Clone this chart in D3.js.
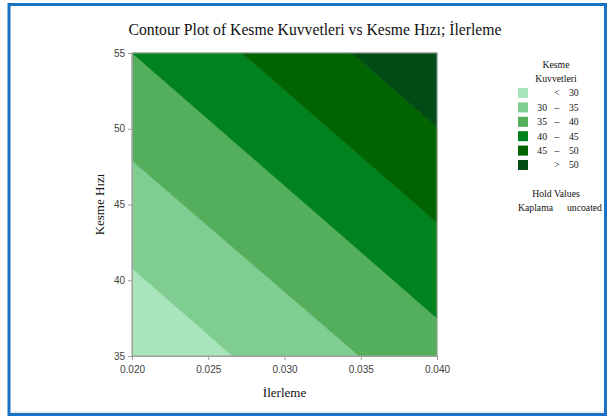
<!DOCTYPE html>
<html><head><meta charset="utf-8">
<script src="https://cdn.jsdelivr.net/npm/d3@7"></script>
<style>html,body{margin:0;padding:0;background:#fff;}svg{display:block;}</style>
</head><body>
<svg id="c" width="613" height="417"></svg>
<script>
// ---- data ----
const levels = [30, 35, 40, 45, 50];
// contour boundary endpoints (İlerleme, Kesme Hızı)
const lineX1 = [0.020, 0.020, 0.020, 0.0272, 0.0344];
const lineY1 = [40.8, 47.9, 55.0, 55.0, 55.0];
const lineX2 = [0.0266, 0.0349, 0.040, 0.040, 0.040];
const lineY2 = [35.0, 35.0, 37.5, 43.8, 50.1];
const bandLabels = [["", "<", "30"], ["30", "–", "35"], ["35", "–", "40"], ["40", "–", "45"], ["45", "–", "50"], ["", ">", "50"]];
const bandColors = ["#a8e5bd", "#80cd91", "#53af5b", "#00821f", "#006400", "#004c14"];
const xTicks = [0.020, 0.025, 0.030, 0.035, 0.040];
const yTicks = [35, 40, 45, 50, 55];
const xDomain = [0.020, 0.040];
const yDomain = [35, 55];

const svg = d3.select("#c");
// outer frame
svg.append("rect").attr("x", 9).attr("y", 4.5).attr("width", 596.5).attr("height", 410)
  .attr("fill", "none").attr("stroke", "#1a72c6").attr("stroke-width", 3);
svg.append("line").attr("x1", 10.5).attr("x2", 604).attr("y1", 412).attr("y2", 412)
  .attr("stroke", "#d8d8d8").attr("stroke-width", 1);

const L = 132, R = 437, T = 53, B = 356;
const x = d3.scaleLinear().domain(xDomain).range([L, R]);
const y = d3.scaleLinear().domain(yDomain).range([B, T]);

// half-plane clipping in pixel space
function lineFn(i) {
  const p1 = [x(lineX1[i]), y(lineY1[i])], p2 = [x(lineX2[i]), y(lineY2[i])];
  const f = p => (p2[0] - p1[0]) * (p[1] - p1[1]) - (p2[1] - p1[1]) * (p[0] - p1[0]);
  const s = Math.sign(f([x(xDomain[1]), y(yDomain[1])])) || 1; // top-right is "higher"
  return p => s * f(p);
}
function clip(poly, g) { // keep g(p) >= 0
  const out = [];
  for (let k = 0; k < poly.length; k++) {
    const a = poly[k], b = poly[(k + 1) % poly.length];
    const ga = g(a), gb = g(b);
    if (ga >= 0) out.push(a);
    if ((ga >= 0) !== (gb >= 0)) {
      const t = ga / (ga - gb);
      out.push([a[0] + t * (b[0] - a[0]), a[1] + t * (b[1] - a[1])]);
    }
  }
  return out;
}
const fns = levels.map((_, i) => lineFn(i));
const rectPoly = [[x(xDomain[0]), y(yDomain[0])], [x(xDomain[1]), y(yDomain[0])], [x(xDomain[1]), y(yDomain[1])], [x(xDomain[0]), y(yDomain[1])]];
const bands = bandColors.map((c, k) => {
  let poly = rectPoly.slice();
  if (k > 0) poly = clip(poly, fns[k - 1]);
  if (k < levels.length) { const f = fns[k]; poly = clip(poly, p => -f(p)); }
  return { poly, c };
});
svg.append("g").selectAll("path").data(bands).join("path")
  .attr("d", d => d.poly.length ? "M" + d.poly.map(p => p.join(",")).join("L") + "Z" : "")
  .attr("fill", d => d.c).attr("stroke", d => d.c).attr("stroke-width", 0.6);

// plot frame
svg.append("rect").attr("x", L).attr("y", T).attr("width", R - L).attr("height", B - T)
  .attr("fill", "none").attr("stroke", "#a0a0a0").attr("stroke-width", 1);

const axFont = "'Liberation Sans', Arial, sans-serif";
const xa = svg.append("g").attr("transform", `translate(0,${B})`)
  .call(d3.axisBottom(x).tickValues(xTicks).tickFormat(d3.format(".3f")).tickSize(4).tickSizeOuter(0));
const ya = svg.append("g").attr("transform", `translate(${L},0)`)
  .call(d3.axisLeft(y).tickValues(yTicks).tickFormat(d3.format("d")).tickSize(4).tickSizeOuter(0));
[xa, ya].forEach(a => {
  a.select(".domain").attr("stroke", "#a0a0a0");
  a.selectAll(".tick line").attr("stroke", "#a0a0a0");
  a.selectAll(".tick text").attr("fill", "#404040").style("font-family", axFont).style("font-size", "10px");
});
xa.selectAll(".tick text").attr("dy", "0.95em");

const serif = "'Liberation Serif', 'Times New Roman', serif";
svg.append("text").attr("x", 315).attr("y", 35).attr("text-anchor", "middle")
  .style("font-family", serif).style("font-size", "15.7px").attr("fill", "#111")
  .text("Contour Plot of Kesme Kuvvetleri vs Kesme Hızı; İlerleme");
svg.append("text").attr("x", (L + R) / 2).attr("y", 397).attr("text-anchor", "middle")
  .style("font-family", serif).style("font-size", "13px").attr("fill", "#111").text("İlerleme");
svg.append("text").attr("transform", `translate(104,${(T + B) / 2}) rotate(-90)`).attr("text-anchor", "middle")
  .style("font-family", serif).style("font-size", "13px").attr("fill", "#111").text("Kesme Hızı");

// legend
const lg = svg.append("g").style("font-family", serif).style("font-size", "9.7px").attr("fill", "#111");
lg.append("text").attr("x", 556).attr("y", 68).attr("text-anchor", "middle").text("Kesme");
lg.append("text").attr("x", 556).attr("y", 82).attr("text-anchor", "middle").text("Kuvvetleri");
const rows = lg.selectAll("g.row").data(bandLabels).join("g").attr("class", "row")
  .attr("transform", (d, i) => `translate(0,${93 + i * 14.4})`);
rows.append("rect").attr("x", 518).attr("y", -5).attr("width", 10).attr("height", 10)
  .attr("fill", (d, i) => bandColors[i]);
rows.append("text").attr("x", 547).attr("y", 3.4).attr("text-anchor", "end").text(d => d[0]);
rows.append("text").attr("x", 557).attr("y", 3.4).attr("text-anchor", "middle").text(d => d[1]);
rows.append("text").attr("x", 569).attr("y", 3.4).attr("text-anchor", "start").text(d => d[2]);
lg.append("text").attr("x", 556).attr("y", 197).attr("text-anchor", "middle").text("Hold Values");
lg.append("text").attr("x", 518).attr("y", 211).text("Kaplama");
lg.append("text").attr("x", 567).attr("y", 211).text("uncoated");
</script>
</body></html>
